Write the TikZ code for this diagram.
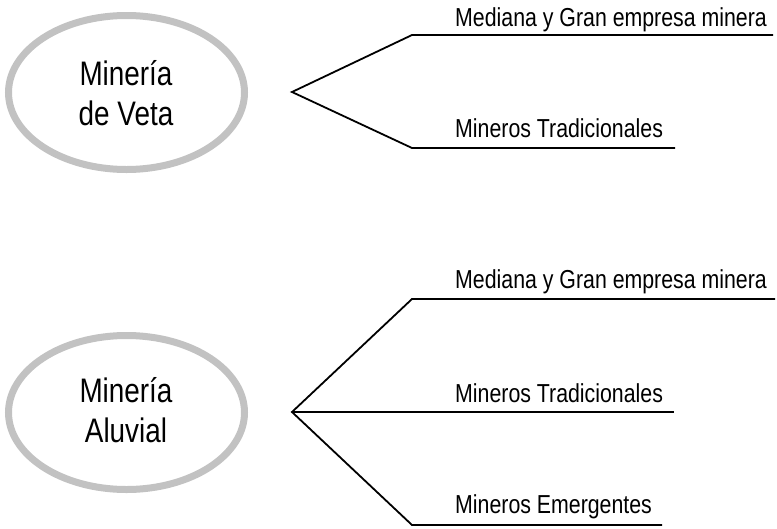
\documentclass[tikz,border=0pt]{standalone}
\usepackage{fontspec}
\setmainfont[FakeStretch=0.82]{Liberation Sans}
\usetikzlibrary{shapes.geometric}
\definecolor{ringgray}{HTML}{C2C2C2}
\tikzset{
  ring/.style={ellipse, draw=ringgray, line width=7pt, minimum width=236pt, minimum height=154pt, inner sep=0pt},
  bigtxt/.style={anchor=base, inner sep=0pt, font=\fontsize{34}{40}\selectfont},
  smalltxt/.style={anchor=base west, inner sep=0pt, font=\fontsize{26}{30}\selectfont},
  branch/.style={line width=1.8pt, black, line join=miter}
}
\begin{document}
\begin{tikzpicture}[x=1pt,y=-1pt]
\useasboundingbox (0,0) rectangle (777,528);
% top group
\node[ring] (veta) at (126.5,92.5) {};
\node[bigtxt] (veta1) at (126,85) {Minería};
\node[bigtxt] (veta2) at (126,125) {de Veta};
\coordinate (t0) at (292,92);
\coordinate (t1) at (412,35);
\coordinate (t1e) at (773,35);
\coordinate (t2) at (412,148);
\coordinate (t2e) at (675,148);
\draw[branch] (t1e) -- (t1) -- (t0) -- (t2) -- (t2e);
\node[smalltxt] (tl1) at (455,26) {Mediana y Gran empresa minera};
\node[smalltxt] (tl2) at (455,137) {Mineros Tradicionales};
% bottom group
\node[ring] (aluv) at (126.5,412.5) {};
\node[bigtxt] (aluv1) at (126,402) {Minería};
\node[bigtxt] (aluv2) at (126,442) {Aluvial};
\coordinate (b0) at (292,412);
\coordinate (b1) at (412,299);
\coordinate (b1e) at (775,299);
\coordinate (b2e) at (674,412);
\coordinate (b3) at (412,525);
\coordinate (b3e) at (662,525);
\draw[branch] (b1e) -- (b1) -- (b0) -- (b3) -- (b3e);
\draw[branch] (b0) -- (b2e);
\node[smalltxt] (bl1) at (455,288) {Mediana y Gran empresa minera};
\node[smalltxt] (bl2) at (455,402) {Mineros Tradicionales};
\node[smalltxt] (bl3) at (455,513) {Mineros Emergentes};
\end{tikzpicture}
\end{document}
